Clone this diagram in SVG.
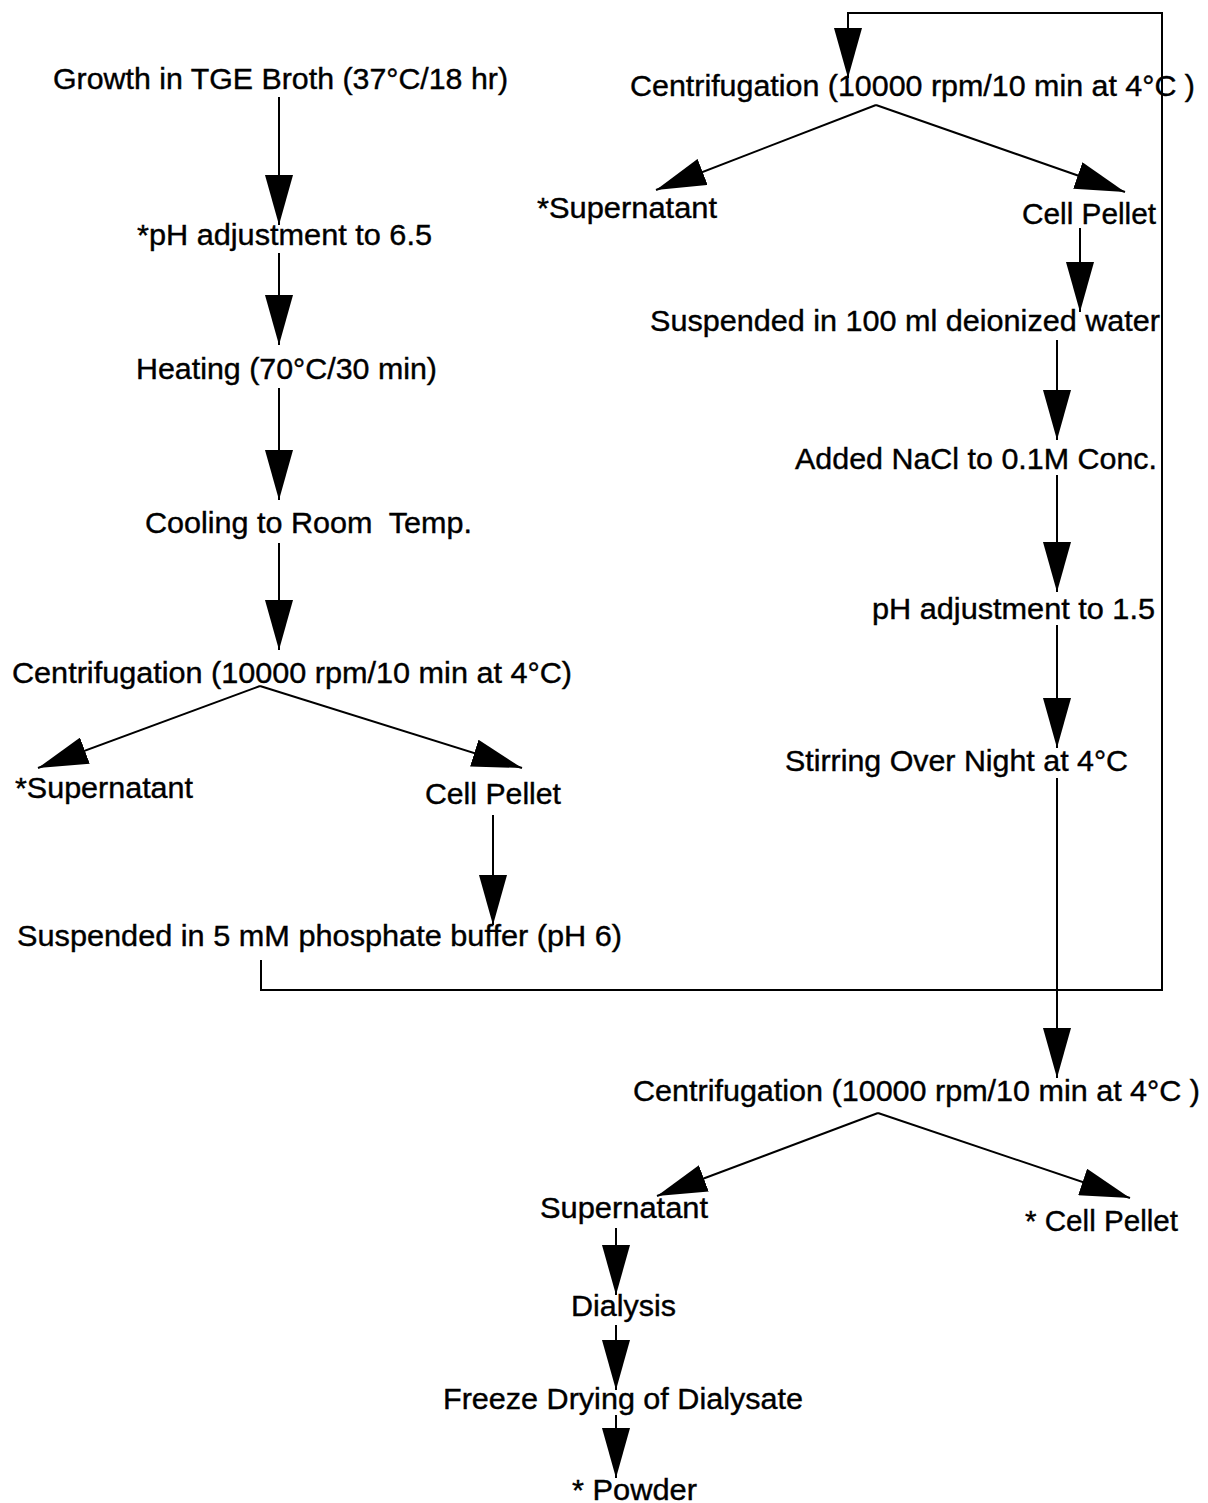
<svg xmlns="http://www.w3.org/2000/svg" width="1208" height="1503" viewBox="0 0 1208 1503">
<style>
text{font-family:"Liberation Sans",Arial,sans-serif;font-size:30px;fill:#000;stroke:#000;stroke-width:0.4;white-space:pre}
.c{fill:none;stroke:#000;stroke-width:2}
</style>
<defs>
<marker id="ah" viewBox="0 0 50 28" markerWidth="50" markerHeight="28" refX="50" refY="14" orient="auto" markerUnits="userSpaceOnUse">
<path d="M0,0 L50,14 L0,28 Z" fill="#000"/>
</marker>
</defs>
<rect width="1208" height="1503" fill="#fff"/>
<g id="connectors">
<line class="c" x1="279" y1="97" x2="279" y2="225" marker-end="url(#ah)"/>
<line class="c" x1="279" y1="253" x2="279" y2="345" marker-end="url(#ah)"/>
<line class="c" x1="279" y1="388" x2="279" y2="500" marker-end="url(#ah)"/>
<line class="c" x1="279" y1="543" x2="279" y2="650" marker-end="url(#ah)"/>
<line class="c" x1="260" y1="686" x2="38" y2="768" marker-end="url(#ah)"/>
<line class="c" x1="260" y1="686" x2="522" y2="768" marker-end="url(#ah)"/>
<line class="c" x1="493" y1="815" x2="493" y2="925" marker-end="url(#ah)"/>
<polyline class="c" points="261,960 261,990 1162,990 1162,13 848,13 848,78" marker-end="url(#ah)"/>
<line class="c" x1="876" y1="105" x2="656" y2="190" marker-end="url(#ah)"/>
<line class="c" x1="876" y1="105" x2="1125" y2="192" marker-end="url(#ah)"/>
<line class="c" x1="1080" y1="228" x2="1080" y2="312" marker-end="url(#ah)"/>
<line class="c" x1="1057" y1="340" x2="1057" y2="440" marker-end="url(#ah)"/>
<line class="c" x1="1057" y1="475" x2="1057" y2="592" marker-end="url(#ah)"/>
<line class="c" x1="1057" y1="625" x2="1057" y2="748" marker-end="url(#ah)"/>
<line class="c" x1="1057" y1="778" x2="1057" y2="1078" marker-end="url(#ah)"/>
<line class="c" x1="878" y1="1113" x2="657" y2="1196" marker-end="url(#ah)"/>
<line class="c" x1="878" y1="1113" x2="1130" y2="1198" marker-end="url(#ah)"/>
<line class="c" x1="616" y1="1228" x2="616" y2="1295" marker-end="url(#ah)"/>
<line class="c" x1="616" y1="1325" x2="616" y2="1390" marker-end="url(#ah)"/>
<line class="c" x1="616" y1="1415" x2="616" y2="1478" marker-end="url(#ah)"/>
</g>
<g id="n1"><text x="53" y="89" textLength="455" lengthAdjust="spacingAndGlyphs">Growth in TGE Broth (37°C/18 hr)</text></g>
<g id="n2"><text x="137" y="245" textLength="295" lengthAdjust="spacingAndGlyphs">*pH adjustment to 6.5</text></g>
<g id="n3"><text x="136" y="379" textLength="301" lengthAdjust="spacingAndGlyphs">Heating (70°C/30 min)</text></g>
<g id="n4"><text x="145" y="533" textLength="327" lengthAdjust="spacingAndGlyphs">Cooling to Room  Temp.</text></g>
<g id="n5"><text x="12" y="683" textLength="560" lengthAdjust="spacingAndGlyphs">Centrifugation (10000 rpm/10 min at 4°C)</text></g>
<g id="n6"><text x="15" y="798" textLength="178" lengthAdjust="spacingAndGlyphs">*Supernatant</text></g>
<g id="n7"><text x="425" y="804" textLength="136" lengthAdjust="spacingAndGlyphs">Cell Pellet</text></g>
<g id="n8"><text x="17" y="946" textLength="605" lengthAdjust="spacingAndGlyphs">Suspended in 5 mM phosphate buffer (pH 6)</text></g>
<g id="n9"><text x="630" y="96" textLength="565" lengthAdjust="spacingAndGlyphs">Centrifugation (10000 rpm/10 min at 4°C )</text></g>
<g id="n10"><text x="537" y="218" textLength="180" lengthAdjust="spacingAndGlyphs">*Supernatant</text></g>
<g id="n11"><text x="1022" y="224" textLength="134" lengthAdjust="spacingAndGlyphs">Cell Pellet</text></g>
<g id="n12"><text x="650" y="331" textLength="510" lengthAdjust="spacingAndGlyphs">Suspended in 100 ml deionized water</text></g>
<g id="n13"><text x="795" y="469" textLength="362" lengthAdjust="spacingAndGlyphs">Added NaCl to 0.1M Conc.</text></g>
<g id="n14"><text x="872" y="619" textLength="283" lengthAdjust="spacingAndGlyphs">pH adjustment to 1.5</text></g>
<g id="n15"><text x="785" y="771" textLength="343" lengthAdjust="spacingAndGlyphs">Stirring Over Night at 4°C</text></g>
<g id="n16"><text x="633" y="1101" textLength="567" lengthAdjust="spacingAndGlyphs">Centrifugation (10000 rpm/10 min at 4°C )</text></g>
<g id="n17"><text x="540" y="1218" textLength="168" lengthAdjust="spacingAndGlyphs">Supernatant</text></g>
<g id="n18"><text x="1025" y="1231" textLength="153" lengthAdjust="spacingAndGlyphs">* Cell Pellet</text></g>
<g id="n19"><text x="571" y="1316" textLength="105" lengthAdjust="spacingAndGlyphs">Dialysis</text></g>
<g id="n20"><text x="443" y="1409" textLength="360" lengthAdjust="spacingAndGlyphs">Freeze Drying of Dialysate</text></g>
<g id="n21"><text x="572" y="1500" textLength="125" lengthAdjust="spacingAndGlyphs">* Powder</text></g>
</svg>
